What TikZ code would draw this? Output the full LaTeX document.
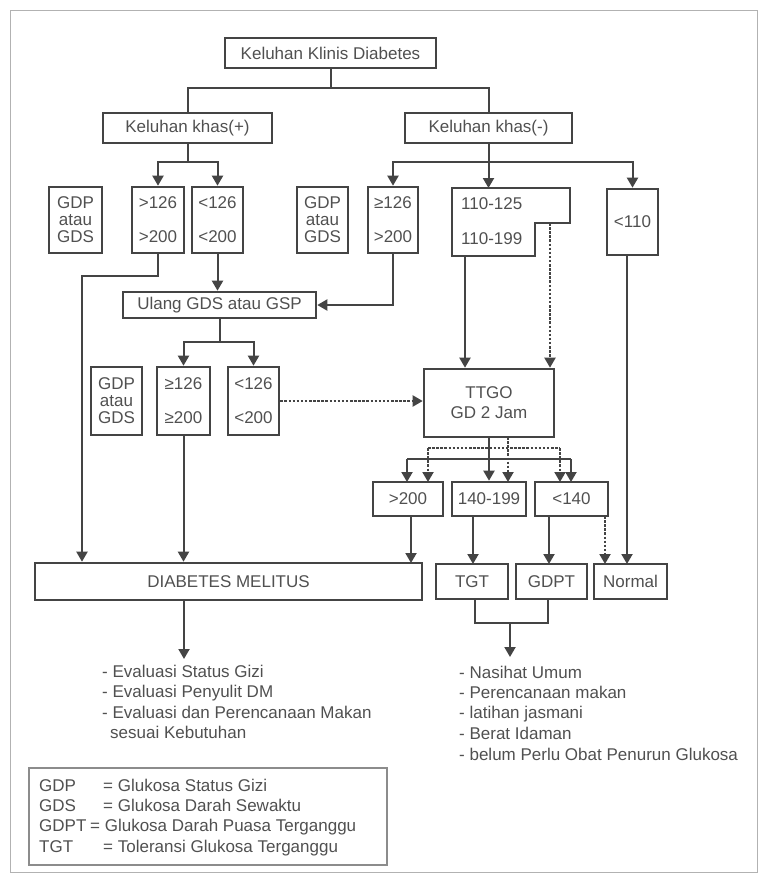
\documentclass[tikz,border=0pt]{standalone}
\usepackage{fontspec}
\setmainfont{Liberation Sans}
\usetikzlibrary{arrows.meta}
\definecolor{ink}{HTML}{444444}
\definecolor{txt}{HTML}{505050}
\begin{document}
\begin{tikzpicture}[x=1pt,y=-1pt,
  box/.style={draw=ink, line width=2.6pt, inner sep=0pt, text=txt, font=\fontsize{17}{20}\selectfont, align=center},
  sbox/.style={box, font=\fontsize{17}{17}\selectfont},
  ln/.style={draw=ink, line width=2pt},
  arr/.style={ln, -{Triangle[width=11pt,length=10pt]}},
  dsh/.style={dash pattern=on 2.5pt off 1.6pt},
  lbl/.style={text=txt, font=\fontsize{17}{20}\selectfont, inner sep=0pt, anchor=base west},
]
\useasboundingbox (0,0) rectangle (766,881);
\draw[black!30, line width=1pt] (10,10) rectangle (757,872);

% top level
\node[box, minimum width=211pt, minimum height=30pt] (kkd) at (330.5,53) {Keluhan Klinis Diabetes};
\node[box, minimum width=169pt, minimum height=30pt] (kpos) at (187.5,128) {Keluhan khas(+)};
\node[box, minimum width=167pt, minimum height=30pt] (kneg) at (488.5,128) {Keluhan khas(-)};
\coordinate (j0) at (330.5,88);
\draw[ln] (kkd.south) -- (j0);
\draw[ln] (j0) -| (kpos.north);
\draw[ln] (j0) -| (kneg.north);

% row 1
\node[sbox, minimum width=53pt, minimum height=66pt] (gdp1) at (75.5,220) {GDP\\atau\\GDS};
\node[box, minimum width=52pt, minimum height=66pt] (a1) at (158,220) {>126\\[14pt]>200};
\node[box, minimum width=51pt, minimum height=66pt] (b1) at (217.5,220) {<126\\[14pt]<200};
\node[sbox, minimum width=51pt, minimum height=66pt] (gdp2) at (322.5,220) {GDP\\atau\\GDS};
\node[box, minimum width=50pt, minimum height=66pt] (a2) at (393,220) {≥126\\[14pt]>200};
\draw[draw=ink, line width=2.6pt] (452,188) -- (570,188) -- (570,223) -- (535,223) -- (535,256) -- (452,256) -- cycle;
\node[lbl, anchor=west] (c2a) at (461,204) {110-125};
\node[lbl, anchor=west] (c2b) at (461,239) {110-199};
\coordinate (c2n) at (488.5,188);
\coordinate (c2s) at (465,256);
\coordinate (c2d) at (550,223);
\node[box, minimum width=51pt, minimum height=66pt] (d2) at (632.5,222) {<110};

\coordinate (j1) at (187.5,162);
\draw[ln] (kpos.south) -- (j1);
\draw[arr] (j1) -| (a1.north);
\draw[arr] (j1) -| (b1.north);
\coordinate (j2) at (488.5,162);
\draw[arr] (kneg.south) -- (c2n);
\draw[arr] (j2) -| (a2.north);
\draw[arr] (j2) -| (d2.north);

% ulang
\node[box, minimum width=193pt, minimum height=26pt] (ulang) at (219.5,305) {Ulang GDS atau GSP};
\draw[arr] (b1.south) -- (b1.south |- ulang.north);
\draw[arr] (a2.south) |- (ulang.east);

% row 2
\node[sbox, minimum width=51pt, minimum height=68pt] (gdp3) at (116.5,401) {GDP\\atau\\GDS};
\node[box, minimum width=53pt, minimum height=68pt] (a3) at (183.5,401) {≥126\\[14pt]≥200};
\node[box, minimum width=51pt, minimum height=68pt] (b3) at (253.5,401) {<126\\[14pt]<200};
\coordinate (j3) at (219.5,342);
\draw[ln] (ulang.south) -- (j3);
\draw[arr] (j3) -| (a3.north);
\draw[arr] (j3) -| (b3.north);

\node[box, minimum width=130pt, minimum height=68pt] (ttgo) at (489,403) {TTGO\\GD 2 Jam};
\draw[arr, dsh] (b3.east) -- (b3.east -| ttgo.west);
\draw[arr] (c2s) -- (c2s |- ttgo.north);
\draw[arr, dsh] (c2d) -- (c2d |- ttgo.north);

% results of ttgo
\node[box, minimum width=70pt, minimum height=34pt] (r200) at (408,499) {>200};
\node[box, minimum width=74pt, minimum height=34pt] (r140) at (489,499) {140-199};
\node[box, minimum width=73pt, minimum height=34pt] (r140l) at (571.5,499) {<140};
\draw[arr] (ttgo.south) -- (ttgo.south |- r140.north);
\draw[arr] (407,459) -- (407,482);
\draw[ln] (407,459) -- (571,459);
\draw[arr] (571,459) -- (571,482);
\draw[arr, dsh] (508,437) -- (508,482);
\draw[ln, dsh] (428,448) -- (560,448);
\draw[arr, dsh] (428,448) -- (428,482);
\draw[arr, dsh] (560,448) -- (560,482);

% bottom row
\node[box, minimum width=387pt, minimum height=37pt] (dm) at (228.5,581.5) {DIABETES MELITUS};
\node[box, minimum width=72pt, minimum height=35pt] (tgt) at (472,581.5) {TGT};
\node[box, minimum width=71pt, minimum height=35pt] (gdpt) at (551.5,581.5) {GDPT};
\node[box, minimum width=73pt, minimum height=35pt] (normal) at (630.5,581.5) {Normal};

\coordinate (k1) at (82,276);
\draw[arr] (a1.south) |- (k1) -- (k1 |- dm.north);
\draw[arr] (a3.south) -- (a3.south |- dm.north);
\draw[arr] (411,516) -- (411,563);
\draw[arr] (473,516) -- (473,564);
\draw[arr] (549,516) -- (549,564);
\draw[arr, dsh] (605,516) -- (605,564);
\draw[arr] (627,255) -- (627,564);

% outputs
\coordinate (q1) at (475,623);
\coordinate (q2) at (548,623);
\draw[ln] (475,599) -- (q1) -- (q2) -- (548,599);
\coordinate (o2) at (510,657);
\draw[arr] (510,623) -- (o2);
\coordinate (o1) at (184,659);
\draw[arr] (184,600) -- (o1);

\node[lbl] (e1) at (102,677) {- Evaluasi Status Gizi};
\node[lbl] (e2) at (102,697) {- Evaluasi Penyulit DM};
\node[lbl] (e3) at (102,718) {- Evaluasi dan Perencanaan Makan};
\node[lbl] (e4) at (110,738) {sesuai Kebutuhan};

\node[lbl] (n1) at (459,678) {- Nasihat Umum};
\node[lbl] (n2) at (459,698) {- Perencanaan makan};
\node[lbl] (n3) at (459,718) {- latihan jasmani};
\node[lbl] (n4) at (459,739) {- Berat Idaman};
\node[lbl] (n5) at (459,760) {- belum Perlu Obat Penurun Glukosa};

% legend
\draw[draw=black!45, line width=1.4pt] (29,768) rectangle (387,865);
\node[lbl] (g1) at (39,791) {GDP};
\node[lbl] (g1d) at (103,791) {= Glukosa Status Gizi};
\node[lbl] (g2) at (39,811) {GDS};
\node[lbl] (g2d) at (103,811) {= Glukosa Darah Sewaktu};
\node[lbl] (g3) at (39,831) {GDPT};
\node[lbl] (g3d) at (90,831) {= Glukosa Darah Puasa Terganggu};
\node[lbl] (g4) at (39,852) {TGT};
\node[lbl] (g4d) at (103,852) {= Toleransi Glukosa Terganggu};
\end{tikzpicture}
\end{document}
